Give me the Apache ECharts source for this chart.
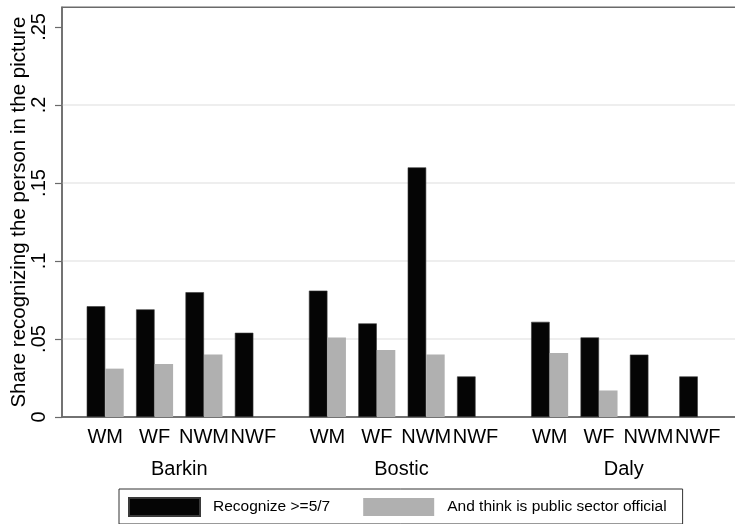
<!DOCTYPE html>
<html>
<head>
<meta charset="utf-8">
<script src="https://cdn.jsdelivr.net/npm/echarts@6/dist/echarts.min.js"></script>
<style>
html,body{margin:0;padding:0;background:#fff;}
#chart{width:735px;height:524px;}
</style>
</head>
<body>
<div id="chart"></div>
<script>
// ---- data ----
const groups = ['Barkin', 'Bostic', 'Daly'];
const subgroups = ['WM', 'WF', 'NWM', 'NWF'];
const seriesNames = ['Recognize >=5/7', 'And think is public sector official'];
const recognize = [0.071, 0.069, 0.080, 0.054, 0.081, 0.060, 0.160, 0.026, 0.061, 0.051, 0.040, 0.026];
const publicSector = [0.031, 0.034, 0.040, 0, 0.051, 0.043, 0.040, 0, 0.041, 0.017, 0, 0];
const yTickValues = [0, 0.05, 0.1, 0.15, 0.2, 0.25];
const yTickLabels = ['0', '.05', '.1', '.15', '.2', '.25'];
const yTitle = 'Share recognizing the person in the picture';

// ---- slot layout (quarter-width category slots) ----
const SLOTS = 55, FIRST = 3, SUB_STEP = 4, GROUP_STEP = 18;
const subCats = new Array(SLOTS).fill('');
const groupCats = new Array(SLOTS).fill('');
const s1 = new Array(SLOTS).fill('-');
const s2 = new Array(SLOTS).fill('-');
groups.forEach((g, gi) => {
  subgroups.forEach((s, si) => {
    const idx = FIRST + gi * GROUP_STEP + si * SUB_STEP;
    const k = gi * subgroups.length + si;
    subCats[idx] = s;
    s1[idx] = recognize[k];
    s2[idx] = publicSector[k];
  });
  groupCats[FIRST + gi * GROUP_STEP + (subgroups.length - 1) * SUB_STEP / 2] = g;
});

const FONT = '"Liberation Sans", Arial, sans-serif';
const chart = echarts.init(document.getElementById('chart'), null, {renderer: 'canvas'});
chart.setOption({
  animation: false,
  backgroundColor: '#ffffff',
  textStyle: {fontFamily: FONT},
  grid: {
    left: 62, top: 7.3, right: -6, bottom: 107,
    outerBoundsMode: 'none', containLabel: false,
    show: true, borderColor: '#6a6a6a', borderWidth: 1.5, backgroundColor: '#ffffff'
  },
  legend: {
    left: 119, top: 489,
    orient: 'horizontal',
    data: seriesNames,
    icon: 'rect',
    itemWidth: 71, itemHeight: 18, itemGap: 33,
    padding: [8, 16, 7, 9],
    borderColor: '#333333', borderWidth: 1,
    textStyle: {fontFamily: FONT, fontSize: 15.5, color: '#000', padding: [0, 0, 0, 8]}
  },
  xAxis: [
    {
      type: 'category', data: subCats, boundaryGap: true,
      axisLine: {show: true, lineStyle: {color: '#6a6a6a', width: 1.5}},
      axisTick: {show: false},
      splitLine: {show: false},
      axisLabel: {interval: 0, hideOverlap: false, fontSize: 20, color: '#000', margin: 10, fontFamily: FONT}
    },
    {
      type: 'category', data: groupCats, boundaryGap: true, position: 'bottom', offset: 33,
      axisLine: {show: false}, axisTick: {show: false}, splitLine: {show: false},
      axisLabel: {interval: 0, hideOverlap: false, fontSize: 20, color: '#000', margin: 9, fontFamily: FONT}
    }
  ],
  yAxis: {
    type: 'value', min: 0, max: 0.2626, interval: 0.05,
    name: yTitle, nameLocation: 'middle', nameGap: 32, nameMoveOverlap: false,
    nameTextStyle: {fontSize: 20.5, color: '#000', fontFamily: FONT},
    axisLine: {show: true, lineStyle: {color: '#6a6a6a', width: 1.5}},
    axisTick: {show: true, length: 7, customValues: yTickValues, lineStyle: {color: '#6a6a6a', width: 1.2}},
    axisLabel: {
      customValues: yTickValues,
      rotate: 90, fontSize: 20, color: '#000', margin: 13, fontFamily: FONT,
      showMaxLabel: true,
      formatter: function (v) {
        const i = yTickValues.findIndex(t => Math.abs(t - v) < 1e-6);
        return i >= 0 ? yTickLabels[i] : '';
      }
    },
    splitLine: {show: true, lineStyle: {color: ['rgba(0,0,0,0)', '#e8e8e8', '#e8e8e8', '#e8e8e8', '#e8e8e8', 'rgba(0,0,0,0)', 'rgba(0,0,0,0)'], width: 1.5}}
  },
  series: [
    {
      name: seriesNames[0], type: 'bar', xAxisIndex: 0, data: s1,
      barWidth: 18.5, barGap: '0%',
      itemStyle: {color: '#050505', borderColor: '#3a3a3a', borderWidth: 0.6}
    },
    {
      name: seriesNames[1], type: 'bar', xAxisIndex: 0, data: s2,
      barWidth: 18.5, barGap: '0%',
      itemStyle: {color: '#b0b0b0'}
    }
  ]
});
</script>
</body>
</html>
